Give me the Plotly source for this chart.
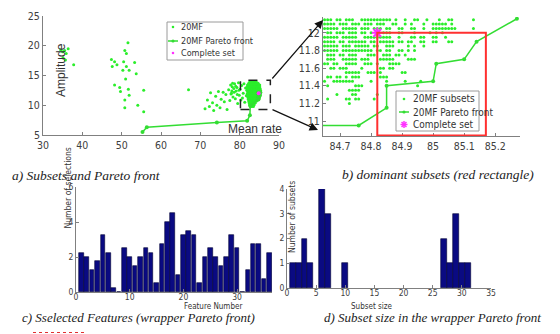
import plotly.graph_objects as go

W, H = 560, 334

# ---------------- Panel a / b data (Mean rate, Amplitude) ----------------
far_x = [34.5, 35.0, 35.5, 36.4, 35.9, 35.1, 35.7, 37.8,
         51.6, 50.8, 51.2, 47.4, 48.2, 48.8, 47.6, 50.5, 51.2, 53.3, 51.9, 53.7,
         51.0, 48.2, 49.5, 51.7, 55.6, 49.7, 51.9, 50.8, 54.1, 50.8, 55.6, 50.3, 67.0]
far_y = [19.3, 19.0, 19.2, 19.5, 18.7, 18.0, 17.6, 16.8,
         20.5, 19.2, 18.7, 17.7, 17.3, 16.8, 16.5, 17.3, 16.5, 17.2, 15.9, 15.3,
         14.4, 13.4, 13.0, 12.7, 12.5, 12.3, 11.7, 10.9, 10.0, 9.6, 8.9, 15.9, 12.6]

sparse_x = [71.2, 71.8, 72.3, 72.6, 73.1, 73.4, 73.9, 74.2, 74.6, 75.0, 75.3, 75.8, 76.1,
            76.5, 76.8, 77.2, 77.5, 77.7, 77.9, 78.1, 78.3, 78.5, 78.7, 78.9, 79.1, 79.3,
            79.5, 79.7, 79.9, 80.1, 80.3, 80.5, 80.7, 80.9, 81.1, 81.3, 81.5, 81.7, 78.0,
            78.6, 79.0, 79.4, 78.2, 77.8, 79.8]
sparse_y = [9.4, 10.9, 9.8, 12.1, 10.4, 9.1, 11.5, 10.0, 12.3, 9.6, 11.0, 12.2, 10.6,
            11.8, 9.3, 12.6, 10.8, 13.4, 12.0, 13.1, 11.4, 12.8, 13.6, 11.1, 12.4, 13.0,
            10.3, 13.8, 11.7, 12.7, 10.9, 13.3, 11.2, 12.0, 13.6, 10.5, 12.9, 11.6, 12.4,
            12.2, 13.2, 11.8, 13.7, 11.9, 12.5]

cluster_rows_y = [14.0, 13.7, 13.4, 13.1, 12.8, 12.5, 12.25, 11.9, 11.6, 11.3, 11.0,
                  10.7, 10.4, 10.1, 9.8]
cluster_rows_x = [
    [82.6, 83.0, 83.4, 83.8, 84.2],
    [82.3, 82.7, 83.1, 83.5, 83.9, 84.3, 84.7],
    [82.0, 82.4, 82.8, 83.2, 83.6, 84.0, 84.4, 84.8, 85.1],
    [81.9, 82.3, 82.7, 83.1, 83.5, 83.9, 84.3, 84.7, 85.1],
    [82.0, 82.4, 82.8, 83.2, 83.6, 84.0, 84.4, 84.8, 85.2],
    [81.8, 82.2, 82.6, 83.0, 83.4, 83.8, 84.2, 84.6, 85.0, 85.3],
    [82.0, 82.4, 82.8, 83.2, 83.6, 84.0, 84.4, 84.8, 85.2],
    [81.9, 82.3, 82.7, 83.1, 83.5, 83.9, 84.3, 84.6],
    [82.0, 82.4, 82.8, 83.2, 83.6, 84.0, 84.4],
    [82.1, 82.5, 82.9, 83.3, 83.7, 84.1, 84.5],
    [82.2, 82.6, 83.0, 83.4, 83.8, 84.2, 84.6],
    [82.3, 82.7, 83.1, 83.5, 83.9, 84.3],
    [82.4, 82.8, 83.2, 83.6, 84.0],
    [82.5, 82.9, 83.3, 83.7],
    [82.7, 83.1, 83.5],
]

grid_rows_y = [12.15, 12.10, 12.05, 12.00, 11.95, 11.90, 11.85, 11.80, 11.75, 11.70,
               11.65, 11.60, 11.55, 11.50, 11.45, 11.40, 11.35, 11.30, 11.25, 11.20]
grid_rows_x = [
    [84.65, 84.66, 84.67, 84.69, 84.70, 84.72, 84.73, 84.74, 84.77, 84.78, 84.79, 84.80, 84.81,
     84.82, 84.83, 84.84, 84.85, 84.86, 84.88, 84.91, 84.94, 84.95, 84.98, 85.02, 85.05, 85.06, 85.13],
    [84.65, 84.66, 84.67, 84.68, 84.70, 84.71, 84.72, 84.74, 84.75, 84.76, 84.78, 84.79, 84.80,
     84.82, 84.83, 84.84, 84.87, 84.88, 84.91, 84.93, 84.97, 85.00, 85.01, 85.02, 85.03, 85.04, 85.06],
    [84.65, 84.66, 84.67, 84.68, 84.69, 84.71, 84.72, 84.73, 84.74, 84.75, 84.77, 84.78, 84.79,
     84.81, 84.82, 84.83, 84.85, 84.86, 84.89, 84.90, 84.93, 84.94, 84.97, 85.00, 85.01, 85.02,
     85.03, 85.04, 85.05, 85.06, 85.07, 85.13],
    [84.66, 84.67, 84.69, 84.70, 84.71, 84.73, 84.74, 84.75, 84.77, 84.78, 84.80, 84.84, 84.85,
     84.86, 84.89, 84.90, 84.94, 84.99, 85.01, 85.03],
    [84.65, 84.66, 84.67, 84.68, 84.69, 84.71, 84.72, 84.73, 84.74, 84.75, 84.78, 84.79, 84.80,
     84.81, 84.82, 84.83, 84.84, 84.85, 84.86, 84.89, 84.93, 84.94, 84.96, 84.97, 85.00, 85.01, 85.04],
    [84.65, 84.66, 84.67, 84.68, 84.70, 84.71, 84.73, 84.74, 84.75, 84.76, 84.77, 84.78, 84.80,
     84.81, 84.83, 84.84, 84.85, 84.86, 84.87, 84.89, 84.90, 84.92, 84.93, 84.96, 84.97, 85.00,
     85.01, 85.05, 85.06],
    [84.65, 84.66, 84.67, 84.68, 84.69, 84.71, 84.72, 84.73, 84.75, 84.76, 84.77, 84.78, 84.79,
     84.81, 84.82, 84.85, 84.86, 84.87, 84.92, 84.94, 84.97],
    [84.65, 84.66, 84.67, 84.68, 84.69, 84.71, 84.72, 84.73, 84.74, 84.75, 84.76, 84.77, 84.78,
     84.79, 84.80, 84.82, 84.83, 84.85, 84.86, 84.89, 84.90, 84.92, 84.94],
    [84.66, 84.67, 84.68, 84.70, 84.71, 84.73, 84.74, 84.75, 84.79, 84.80, 84.81, 84.84, 84.85,
     84.86, 84.88, 84.89, 84.91],
    [84.66, 84.67, 84.68, 84.71, 84.72, 84.73, 84.74, 84.75, 84.77, 84.78, 84.79, 84.83, 84.84,
     84.85, 84.86, 84.87, 84.92, 84.93, 84.94],
    [84.65, 84.66, 84.68, 84.69, 84.72, 84.73, 84.74, 84.75, 84.78, 84.79, 84.80, 84.82, 84.86,
     84.87, 84.88, 84.89],
    [84.67, 84.68, 84.70, 84.71, 84.72, 84.77, 84.83, 84.84, 84.86, 84.87],
    [84.72, 84.73, 84.74, 84.75, 84.76, 84.79, 84.80, 84.81, 84.83, 84.90, 84.91],
    [84.66, 84.67, 84.69, 84.70, 84.72, 84.74, 84.75, 84.76, 84.83, 84.84, 84.85],
    [84.65, 84.68, 84.69, 84.70, 84.71, 84.72, 84.73, 84.74, 84.80, 84.85, 84.91, 84.96],
    [84.66, 84.75, 84.76, 84.77, 84.95],
    [84.73, 84.74, 84.75, 84.76],
    [84.69, 84.74, 84.75, 84.82],
    [84.66, 84.72, 84.73, 84.75, 84.76, 84.81],
    [84.73],
]

front_x = [55.3, 56.4, 74.2, 81.9, 82.6, 82.7, 84.6, 84.76, 84.85, 84.85, 85.0, 85.01, 85.1, 85.14, 85.27]
front_y = [5.5, 6.3, 7.1, 7.4, 8.3, 9.9, 10.95, 10.95, 11.15, 11.4, 11.45, 11.65, 11.7, 11.9, 12.16]

complete_x = [84.82]
complete_y = [12.0]

b_ytickvals = [11, 11.2, 11.4, 11.6, 11.8, 12]
b_yticktext = ["11", "11.2", "11.4", "11.6", "11.8", "12"]
b_xtickvals = [84.7, 84.8, 84.9, 85.0, 85.1, 85.2]
b_xticktext = ["84.7", "84.8", "84.9", "85", "85.1", "85.2"]

legend_a_labels = ["20MF", "20MF Pareto front", "Complete set"]
legend_b_labels = ["20MF subsets", "20MF Pareto front", "Complete set"]

# ---------------- Panel c data ----------------
feature_number = [1, 2, 3, 4, 5, 6, 7, 8, 9, 10, 11, 12, 13, 14, 15, 16, 17, 18,
                  19, 20, 21, 22, 23, 24, 25, 26, 27, 28, 29, 30, 31, 32, 33, 34, 35, 36]
selections = [2.25, 2.0, 1.25, 1.75, 3.25, 2.25, 0.25, 0, 2.5, 2.0, 1.5, 2.0, 2.5, 2.25,
              0.5, 2.75, 4.0, 4.5, 1.0, 3.25, 3.5, 3.25, 0.5, 2.0, 2.5, 2.0, 1.5, 2.0,
              3.25, 2.5, 0, 1.25, 2.75, 2.75, 0.75, 2.25]

# ---------------- Panel d data ----------------
subset_size = [1, 2, 3, 4, 6, 7, 10, 27, 28, 29, 30, 31]
n_subsets = [1, 1, 2, 1, 4, 3, 1, 2, 1, 3, 1, 1]

# ---------------- build point lists ----------------
all_x, all_y = [], []
all_x += far_x; all_y += far_y
all_x += sparse_x; all_y += sparse_y
for yv, xs in zip(cluster_rows_y, cluster_rows_x):
    all_x += xs; all_y += [yv] * len(xs)
for yv, xs in zip(grid_rows_y, grid_rows_x):
    all_x += xs; all_y += [yv] * len(xs)


def px(x):
    return x / W


def py(y):
    return 1 - y / H


GREEN = "#2bee2b"
LGREEN = "#33dd33"
MAG = "#ff30ff"
NAVY = "#0a0a82"
NARROW = "Liberation Sans Narrow, DejaVu Sans Condensed, Arial Narrow, sans-serif"
SANS = "Liberation Sans, Arial, sans-serif"
SERIF = "Liberation Serif, Times New Roman, serif"

fig = go.Figure()

# panel a
fig.add_trace(go.Scatter(x=all_x, y=all_y, mode="markers", name=legend_a_labels[0],
                         marker=dict(size=3, color=GREEN), xaxis="x", yaxis="y", showlegend=False))
fig.add_trace(go.Scatter(x=front_x, y=front_y, mode="lines+markers", name=legend_a_labels[1],
                         line=dict(color=LGREEN, width=1.5), marker=dict(size=4, color=LGREEN),
                         xaxis="x", yaxis="y", showlegend=False))
fig.add_trace(go.Scatter(x=complete_x, y=complete_y, mode="markers", name=legend_a_labels[2],
                         marker=dict(size=4, color=MAG), xaxis="x", yaxis="y", showlegend=False))

# panel b
fig.add_trace(go.Scatter(x=all_x, y=all_y, mode="markers", name=legend_b_labels[0],
                         marker=dict(size=3, color=GREEN), xaxis="x2", yaxis="y2", showlegend=False))
fig.add_trace(go.Scatter(x=front_x, y=front_y, mode="lines+markers", name=legend_b_labels[1],
                         line=dict(color=LGREEN, width=1.5), marker=dict(size=4, color=LGREEN),
                         xaxis="x2", yaxis="y2", showlegend=False))
fig.add_trace(go.Scatter(x=complete_x, y=complete_y, mode="markers", name=legend_b_labels[2],
                         marker=dict(size=9, color=MAG, symbol="asterisk-open",
                                     line=dict(color=MAG, width=2)),
                         xaxis="x2", yaxis="y2", showlegend=False))

# panel c
fig.add_trace(go.Bar(x=feature_number, y=selections, width=0.85, marker=dict(color=NAVY,
                     line=dict(color="#000033", width=0.6)), xaxis="x3", yaxis="y3", showlegend=False))
# panel d
fig.add_trace(go.Bar(x=subset_size, y=n_subsets, width=1.0, marker=dict(color=NAVY,
                     line=dict(color="#000033", width=0.6)), xaxis="x4", yaxis="y4", showlegend=False))

axis_common = dict(showline=True, linecolor="#808080", linewidth=1, showgrid=False, zeroline=False,
                   ticks="inside", ticklen=3, tickcolor="#808080", mirror=False, automargin=False)
tf_big = dict(family=NARROW, size=10.5, color="#404040")
tf_small = dict(family=NARROW, size=8.5, color="#404040")

fig.update_layout(
    width=W, height=H, margin=dict(l=0, r=0, t=0, b=0, autoexpand=False),
    paper_bgcolor="white", plot_bgcolor="white", showlegend=False,
    xaxis=dict(domain=[px(43), px(279)], range=[30, 90], dtick=10, anchor="y",
               tickfont=tf_big, **axis_common),
    yaxis=dict(domain=[py(135), py(16)], range=[5, 25], dtick=5, anchor="x",
               tickfont=tf_big, **axis_common),
    xaxis2=dict(domain=[px(323), px(520)], range=[84.645, 85.28], tickvals=b_xtickvals,
                ticktext=b_xticktext, anchor="y2", tickfont=tf_big, **axis_common),
    yaxis2=dict(domain=[py(136), py(17)], range=[10.83, 12.18], tickvals=b_ytickvals,
                ticktext=b_yticktext, anchor="x2", tickfont=tf_big, **axis_common),
    xaxis3=dict(domain=[px(76), px(272)], range=[0, 36.5], dtick=10, anchor="y3",
                tickfont=tf_small, ticklabelstandoff=-3, **axis_common),
    yaxis3=dict(domain=[py(292), py(187)], range=[0, 6], dtick=2, anchor="x3",
                tickfont=tf_small, **axis_common),
    xaxis4=dict(domain=[px(287), px(491)], range=[0, 35], dtick=5, anchor="y4",
                tickfont=tf_small, ticklabelstandoff=-3, **axis_common),
    yaxis4=dict(domain=[py(288), py(189)], range=[0, 4], dtick=1, anchor="x4",
                tickfont=tf_small, **axis_common),
    bargap=0,
)

# zoom rectangles
fig.add_shape(type="rect", xref="x", yref="y", x0=80.2, x1=87.8, y0=9.3, y1=14.2,
              line=dict(color="#222", width=1.5, dash="dash"))
fig.add_shape(type="rect", xref="x2", yref="y2", x0=84.82, x1=85.17, y0=10.835, y1=12.0,
              line=dict(color="#ff3030", width=2))

annots = []


def legend_box(x0, x1, y0, y1, sym_x, rows_y, text_x, labels, fsize, star):
    fig.add_shape(type="rect", xref="paper", yref="paper", x0=px(x0), x1=px(x1),
                  y0=py(y1), y1=py(y0), fillcolor="white", line=dict(color="#9a9a9a", width=1))
    r = 1.3
    fig.add_shape(type="circle", xref="paper", yref="paper", x0=px(sym_x - r), x1=px(sym_x + r),
                  y0=py(rows_y[0] + r), y1=py(rows_y[0] - r), fillcolor=GREEN, line=dict(width=0))
    fig.add_shape(type="line", xref="paper", yref="paper", x0=px(sym_x - 5), x1=px(sym_x + 5),
                  y0=py(rows_y[1]), y1=py(rows_y[1]), line=dict(color=LGREEN, width=1.5))
    r2 = 1.6
    fig.add_shape(type="circle", xref="paper", yref="paper", x0=px(sym_x - r2), x1=px(sym_x + r2),
                  y0=py(rows_y[1] + r2), y1=py(rows_y[1] - r2), fillcolor=LGREEN, line=dict(width=0))
    if star:
        s = 3.5
        cy = rows_y[2]
        for dx, dy in [(s, 0), (0, s), (s * 0.7, s * 0.7), (s * 0.7, -s * 0.7)]:
            fig.add_shape(type="line", xref="paper", yref="paper", x0=px(sym_x - dx), x1=px(sym_x + dx),
                          y0=py(cy - dy), y1=py(cy + dy), line=dict(color=MAG, width=1.5))
    else:
        fig.add_shape(type="circle", xref="paper", yref="paper", x0=px(sym_x - r), x1=px(sym_x + r),
                      y0=py(rows_y[2] + r), y1=py(rows_y[2] - r), fillcolor=MAG, line=dict(width=0))
    for ry, lab in zip(rows_y, labels):
        annots.append(dict(x=px(text_x), y=py(ry), xref="paper", yref="paper", xanchor="left",
                           yanchor="middle", text=lab, showarrow=False,
                           font=dict(family=NARROW, size=fsize, color="#333")))


legend_box(167, 243, 22, 60, 173, [27, 41, 53], 179, legend_a_labels, 9, False)
legend_box(396, 479, 91, 131, 404, [99, 112, 124.5], 411, legend_b_labels, 10, True)

# arrows
annots.append(dict(x=px(323), y=py(20), xref="paper", yref="paper", ax=-52, ay=60, text="",
                   showarrow=True, arrowhead=2, arrowsize=1.4, arrowwidth=1.2, arrowcolor="#111"))
annots.append(dict(x=px(318), y=py(130), xref="paper", yref="paper", ax=-47, ay=-21, text="",
                   showarrow=True, arrowhead=2, arrowsize=1.4, arrowwidth=1.2, arrowcolor="#111"))
# axis titles
annots.append(dict(x=px(52), y=py(41), xref="paper", yref="paper", text="Amplitude", textangle=-90,
                   showarrow=False, font=dict(family=SANS, size=12, color="#333")))
annots.append(dict(x=px(255), y=py(129), xref="paper", yref="paper", text="Mean rate",
                   showarrow=False, font=dict(family=SANS, size=12, color="#333")))
annots.append(dict(x=px(61), y=py(231), xref="paper", yref="paper", text="Number of selections",
                   textangle=-90, showarrow=False, font=dict(family=NARROW, size=8.5, color="#333")))
annots.append(dict(x=px(182), y=py(312.5), xref="paper", yref="paper", text="Feature Number",
                   showarrow=False, font=dict(family=NARROW, size=8, color="#333")))
annots.append(dict(x=px(292), y=py(217), xref="paper", yref="paper", text="Number of subsets",
                   textangle=-90, showarrow=False, font=dict(family=NARROW, size=8.5, color="#333")))
annots.append(dict(x=px(395), y=py(312.5), xref="paper", yref="paper", text="Subset size",
                   showarrow=False, font=dict(family=NARROW, size=8, color="#333")))
# captions
cap_font = dict(family=SERIF, size=13.5, color="#222")
cap_font_b = dict(family=SERIF, size=13, color="#222")
annots.append(dict(x=px(10), y=py(175), xref="paper", yref="paper", xanchor="left",
                   text="<i>a) Subsets and Pareto front</i>", showarrow=False, font=cap_font))
annots.append(dict(x=px(340), y=py(174), xref="paper", yref="paper", xanchor="left",
                   text="<i>b) dominant subsets (red rectangle)</i>", showarrow=False, font=cap_font))
annots.append(dict(x=px(20), y=py(327), xref="paper", yref="paper", xanchor="left",
                   text="<i>c) Sselected Features (wrapper Pareto front)</i>", showarrow=False, font=cap_font_b))
annots.append(dict(x=px(322), y=py(327), xref="paper", yref="paper", xanchor="left",
                   text="<i>d) Subset size in the wrapper Pareto front</i>", showarrow=False, font=cap_font_b))
fig.update_layout(annotations=annots)

# spell-check style underline under "Sselected"
fig.add_shape(type="line", xref="paper", yref="paper", x0=px(33), x1=px(85), y0=py(332.5), y1=py(332.5),
              line=dict(color="#e03030", width=1, dash="dot"))

fig.write_html("out.html", config={"displayModeBar": False},
               post_script="document.body.style.margin='0';document.body.style.padding='0';document.body.style.overflow='hidden';")
